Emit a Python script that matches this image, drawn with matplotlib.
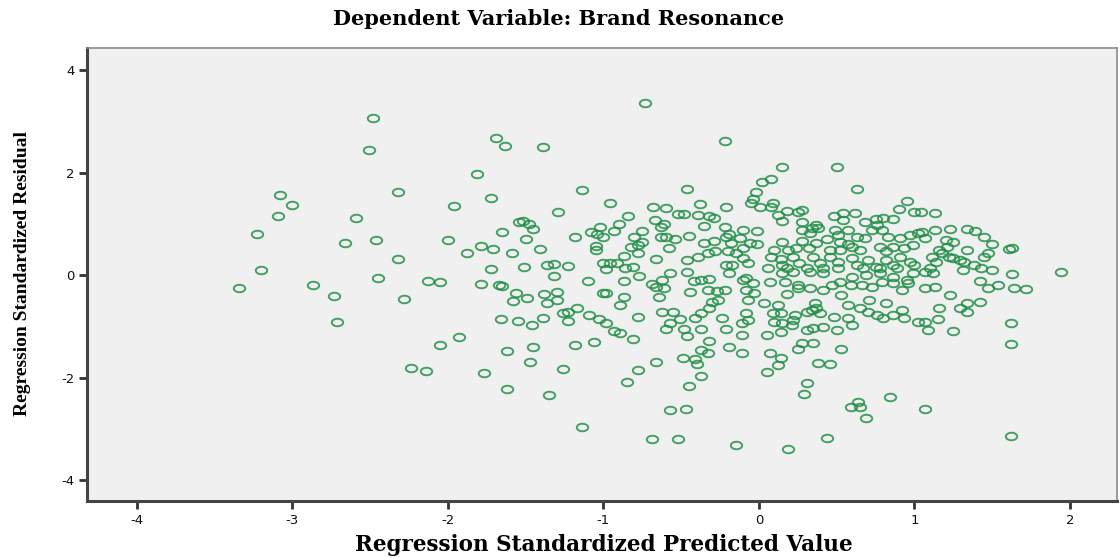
import numpy as np
import matplotlib
matplotlib.use("Agg")
import matplotlib.pyplot as plt
from matplotlib.path import Path

plt.rcParams["axes.unicode_minus"] = False

# Regression standardized predicted values (x) and standardized residuals (y)
pred = [
    -3.34, -3.23, -3.20, -3.08, -3.09, -3.00, -2.87, -2.73, -2.71, -2.66,
    -2.48, -2.51, -2.32, -2.59, -2.46, -2.32, -2.45, -1.81, -1.69, -1.63,
    -1.72, -1.96, -1.65, -2.00, -1.88, -1.79, -1.71, -1.59, -1.72, -2.13,
    -2.05, -1.79, -1.67, -1.54, -2.28, -1.56, -1.58, -1.66, -1.55, -1.93,
    -2.05, -1.62, -2.24, -2.14, -1.77, -1.62,
    -0.73, -0.22, -1.39, -1.14, -0.46, -0.96, -0.38, -1.29, -0.68, -0.60,
    -0.21, -0.84, -0.52, -0.48, -0.39, -0.32, -0.29, -0.67, -0.61, -0.63,
    -1.52, -1.48, -1.45, -0.35, -0.22, -1.02, -1.08, -1.04, -1.00, -0.90,
    -0.93, -0.75, -0.80, -0.75, -0.78, -0.82, -1.18, -1.50, -0.63, -0.60,
    -0.54, -0.45, -0.21, -0.19, -0.29, -0.35, -0.18, -0.15, -0.20, -0.28,
    -0.33, -0.39, -0.58, -0.66, -0.46, -0.87, -0.78, -1.05, -1.05, -1.41,
    -1.00, -0.96, -0.91, -1.36, -1.32, -1.23, -1.51, -0.21, -0.17,
    -1.32, -1.65, -1.10, -0.86, -0.81, -0.98, -0.87, -0.77, -0.69, -0.62,
    -0.66, -0.61, -0.64, -0.57, -0.46, -0.42, -0.37, -0.32, -0.44, -0.33,
    -0.27, -0.22, -0.26, -0.30, -0.19, -1.49, -1.38, -1.30, -1.36, -1.30,
    -1.46, -1.39, -1.26, -1.23, -1.17, -1.23, -1.09, -1.03, -0.98, -0.93,
    -0.89, -0.81, -0.78, -0.98, -1.00, -0.87, -0.89, -0.62, -0.55, -0.51,
    -0.57, -0.60, -0.41, -0.37, -0.32, -0.24, -0.48, -0.46, -0.37, -0.21,
    -0.32, -0.19, -0.37, -0.33, -0.49, -0.41, -0.40, -0.37, -0.45, -1.45,
    -1.47, -1.18, -1.06, -1.26, -0.66, -0.78, -0.85, -1.35, -0.57, -0.47,
    -1.14, -0.69, -0.52, -0.15,
    0.15, 0.50, 0.02, 0.08, 0.63, -0.02, -0.04, -0.05, 0.01, 0.09,
    0.08, 0.12, 0.15, 0.18, 0.25, 0.28, 0.48, 0.54, 0.62, 0.54,
    0.68, 0.95, 0.90, 1.00, 0.86, 0.75, 0.80, 0.28, 0.37, 0.34,
    0.28, 0.33, 0.38, -0.01, -0.10, 0.49, 0.57, 0.51, 0.73, 0.79,
    0.76, 0.63, 0.68, 0.83, 0.91, 0.97, 1.02, -0.12, -0.06, -0.01,
    0.15, 0.28, 0.37, 0.44, 0.52, 0.57, -0.10, 0.10, 0.19, 0.24,
    0.32, 0.46, 0.52, 0.60, 0.65, 0.78, 0.82, 0.86, 0.93, 0.99,
    -0.07, -0.10, 0.08, 0.14, 0.15, 0.22, 0.26, 0.35, 0.39, 0.46,
    0.51, 0.60, 0.63, 0.70, 0.75, 0.82, 0.86, 0.91, 0.97, 1.00,
    0.06, 0.18, 0.31, 0.41, 0.51, 0.67, 0.78, 0.89, -0.08,
    0.15, 0.22, 0.33, 0.41, 0.60, 0.69, 0.78, 0.86, 0.95, 0.99,
    -0.10, -0.04, -0.08, -0.03, -0.07, 0.07, 0.17, 0.25, 0.33, 0.41,
    0.47, 0.52, 0.59, 0.66, 0.73, 0.79, 0.86, 0.96, 0.18, 0.25,
    0.53, 0.92, 0.71, 0.82, 0.03, 0.12, 0.36, 0.37, 0.34, 0.57,
    0.65, -0.08, -0.07, -0.11, 0.09, 0.14, 0.23, 0.31, 0.39, 0.48,
    0.57, 0.70, 0.76, 0.80, 0.86, 0.92, 0.93, 0.10, 0.15, 0.22,
    0.21, 0.60, 1.02, -0.11, 0.05, 0.14, 0.31, 0.35, 0.41, 0.50,
    -0.11, 0.07, 0.14, 0.25, 0.28, 0.35, 0.53, 0.05, 0.12, 0.38,
    0.46, 0.31, 0.29, 0.59, 0.64, 0.65, 0.69, 0.84, 0.19, 0.44,
    1.13, 1.04, 1.13, 1.23, 1.34, 1.39, 1.45, 1.50, 1.61, 1.63,
    1.05, 1.07, 1.20, 1.25, 1.21, 1.16, 1.34, 1.47, 1.45, 1.18,
    1.22, 1.25, 1.29, 1.32, 1.38, 1.11, 1.14, 1.10, 1.07, 1.43,
    1.50, 1.63, 1.94, 1.12, 1.31, 1.07, 1.13, 1.42, 1.47, 1.54,
    1.64, 1.72, 1.23, 1.16, 1.29, 1.34, 1.34, 1.42, 1.15, 1.07,
    1.09, 1.25, 1.62, 1.62, 1.07, 1.62,
]

resid = [
    -0.25, 0.80, 0.10, 1.56, 1.15, 1.37, -0.20, -0.41, -0.92, 0.62,
    3.07, 2.44, 1.62, 1.11, 0.68, 0.31, -0.06, 1.97, 2.68, 2.52,
    1.50, 1.35, 0.84, 0.68, 0.43, 0.57, 0.51, 0.43, 0.12, -0.12,
    -0.14, -0.18, -0.20, 1.04, -0.47, -0.35, -0.51, -0.86, -0.90, -1.21,
    -1.37, -1.48, -1.82, -1.87, -1.91, -2.23,
    3.36, 2.62, 2.50, 1.66, 1.68, 1.41, 1.39, 1.23, 1.33, 1.31,
    1.33, 1.15, 1.19, 1.19, 1.17, 1.15, 1.11, 1.07, 1.00, 0.94,
    1.05, 1.00, 0.90, 0.96, 0.94, 0.94, 0.84, 0.80, 0.74, 1.00,
    0.86, 0.86, 0.74, 0.64, 0.59, 0.55, 0.74, 0.70, 0.74, 0.74,
    0.70, 0.76, 0.74, 0.80, 0.66, 0.62, 0.62, 0.43, 0.47, 0.47,
    0.43, 0.35, 0.53, 0.31, 0.29, 0.37, 0.43, 0.57, 0.49, 0.51,
    0.23, 0.23, 0.23, 0.20, 0.21, 0.18, 0.16, 0.20, 0.20,
    -0.02, -0.21, -0.12, 0.14, 0.16, 0.12, -0.12, -0.02, -0.18, -0.10,
    -0.23, -0.25, -0.43, 0.04, 0.06, -0.12, -0.10, -0.08, -0.33, -0.29,
    -0.31, -0.29, -0.49, -0.53, 0.04, -0.45, -0.37, -0.33, -0.55, -0.49,
    -0.98, -0.84, -0.74, -0.72, -0.64, -0.90, -0.78, -0.86, -0.94, -1.09,
    -1.13, -1.25, -0.82, -0.35, -0.35, -0.43, -0.59, -0.72, -0.72, -0.86,
    -0.94, -1.05, -0.84, -0.74, -0.64, -0.84, -1.05, -1.19, -1.05, -1.05,
    -1.29, -1.41, -1.46, -1.52, -1.62, -1.64, -1.74, -1.97, -2.17, -1.41,
    -1.70, -1.37, -1.31, -1.84, -1.70, -1.86, -2.09, -2.34, -2.64, -2.62,
    -2.97, -3.20, -3.20, -3.32,
    2.11, 2.11, 1.82, 1.87, 1.68, 1.62, 1.48, 1.41, 1.33, 1.41,
    1.33, 1.17, 1.05, 1.25, 1.23, 1.27, 1.15, 1.21, 1.21, 1.07,
    1.04, 1.45, 1.29, 1.23, 1.09, 1.09, 1.11, 1.04, 0.98, 0.92,
    0.88, 0.82, 0.92, 0.86, 0.88, 0.88, 0.88, 0.78, 0.88, 0.88,
    0.98, 0.74, 0.72, 0.74, 0.72, 0.78, 0.82, 0.72, 0.62, 0.61,
    0.64, 0.66, 0.62, 0.70, 0.64, 0.61, 0.53, 0.49, 0.49, 0.53,
    0.53, 0.49, 0.49, 0.55, 0.49, 0.55, 0.47, 0.55, 0.53, 0.59,
    0.23, 0.33, 0.35, 0.31, 0.20, 0.35, 0.23, 0.35, 0.23, 0.35,
    0.25, 0.33, 0.20, 0.29, 0.16, 0.29, 0.20, 0.35, 0.25, 0.20,
    0.14, 0.14, 0.14, 0.14, 0.14, 0.14, 0.14, 0.14, -0.06,
    0.04, 0.06, 0.06, 0.04, -0.04, 0.00, 0.04, -0.04, -0.10, 0.04,
    -0.10, -0.16, -0.29, -0.35, -0.49, -0.14, -0.14, -0.20, -0.25, -0.29,
    -0.20, -0.14, -0.20, -0.20, -0.23, -0.14, -0.16, -0.16, -0.37, -0.25,
    -0.39, -0.29, -0.49, -0.55, -0.55, -0.59, -0.55, -0.64, -0.68, -0.59,
    -0.64, -0.74, -0.88, -0.94, -0.74, -0.74, -0.78, -0.72, -0.74, -0.82,
    -0.84, -0.72, -0.78, -0.84, -0.78, -0.68, -0.84, -0.92, -0.94, -0.88,
    -0.98, -0.98, -0.92, -1.17, -1.17, -1.11, -1.07, -1.04, -1.02, -1.07,
    -1.52, -1.52, -1.62, -1.45, -1.33, -1.33, -1.45, -1.89, -1.76, -1.72,
    -1.74, -2.11, -2.32, -2.58, -2.48, -2.58, -2.79, -2.38, -3.40, -3.18,
    1.21, 1.23, 0.88, 0.90, 0.90, 0.86, 0.74, 0.61, 0.51, 0.53,
    0.84, 0.72, 0.68, 0.64, 0.55, 0.49, 0.49, 0.43, 0.35, 0.43,
    0.35, 0.33, 0.29, 0.25, 0.20, 0.35, 0.25, 0.14, 0.06, 0.14,
    0.10, 0.02, 0.06, 0.04, 0.10, -0.25, -0.23, -0.12, -0.25, -0.20,
    -0.25, -0.27, -0.39, -0.64, -0.64, -0.55, -0.72, -0.53, -0.86, -0.92,
    -1.07, -1.09, -0.94, -1.35, -2.62, -3.14,
]

x_ticks = [-4, -3, -2, -1, 0, 1, 2]
y_ticks = [-4, -2, 0, 2, 4]

title_text = "Dependent Variable: Brand Resonance"
x_label = "Regression Standardized Predicted Value"
y_label = "Regression Standardized Residual"

# Slightly flattened open-circle marker
theta = np.linspace(0, 2 * np.pi, 61)
ellipse = Path(np.column_stack([np.cos(theta), 0.66 * np.sin(theta)]), closed=True)

fig = plt.figure(figsize=(11.2, 5.58), dpi=100)
ax = fig.add_axes([0.0777, 0.102, 0.9193, 0.812])
ax.set_facecolor("#f0f0f0")

ax.plot(pred, resid, linestyle="none", marker=ellipse, markersize=8.2,
        markerfacecolor="none", markeredgecolor="#1f8e45",
        markeredgewidth=1.4, alpha=0.82)

ax.set_xlim(-4.32, 2.30)
ax.set_ylim(-4.41, 4.43)
ax.set_xticks(x_ticks)
ax.set_yticks(y_ticks)
ax.tick_params(axis="both", direction="out", length=6, width=2,
               color="#333333", labelsize=9.5, labelcolor="#111111", pad=3)

for side in ("left", "bottom"):
    ax.spines[side].set_color("#444444")
    ax.spines[side].set_linewidth(2.2)
for side in ("top", "right"):
    ax.spines[side].set_color("#8a8a8a")
    ax.spines[side].set_linewidth(1.2)

fig.text(0.4985, 0.966, title_text, ha="center", va="center",
         fontsize=15, fontweight="bold", family="DejaVu Serif")
fig.text(0.539, 0.024, x_label, ha="center", va="center",
         fontsize=15.5, fontweight="bold", family="DejaVu Serif")
fig.text(0.020, 0.509, y_label, ha="center", va="center", rotation=90,
         fontsize=14, fontweight="bold", family="Liberation Serif")

fig.savefig("out.png", dpi=100, facecolor="white")
